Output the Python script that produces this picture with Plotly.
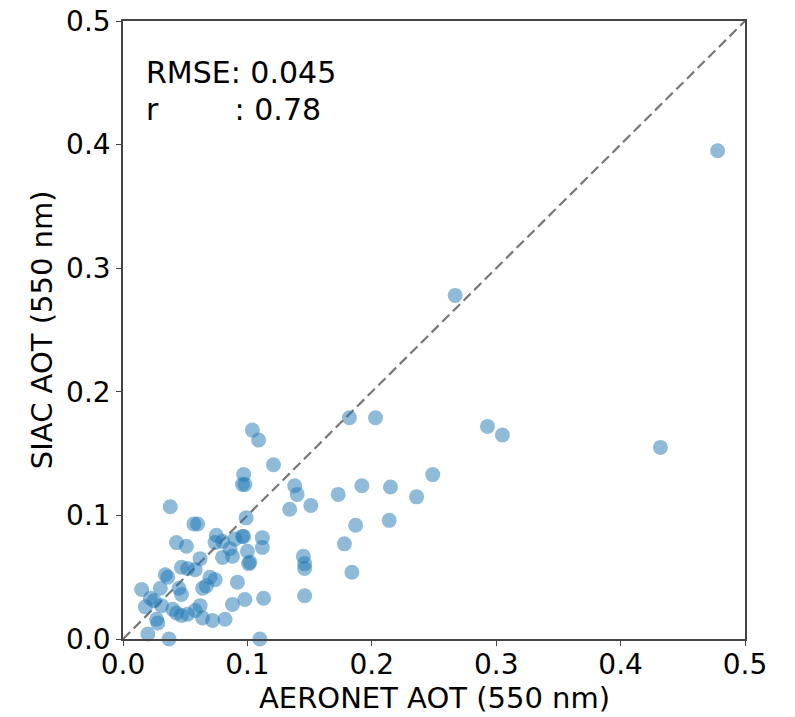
import plotly.graph_objects as go

aeronet = [0.038, 0.096, 0.057, 0.060, 0.099, 0.043, 0.051, 0.075, 0.074, 0.080,
           0.090, 0.096, 0.112, 0.112, 0.100, 0.086, 0.080, 0.088, 0.102, 0.062,
           0.047, 0.052, 0.058, 0.034, 0.036, 0.070, 0.074, 0.067, 0.064, 0.092,
           0.015, 0.030, 0.045, 0.047, 0.022, 0.025, 0.018, 0.031, 0.062, 0.088,
           0.098, 0.113, 0.043, 0.047, 0.052, 0.040, 0.058, 0.064, 0.072, 0.082,
           0.027, 0.028, 0.020, 0.037, 0.110, 0.104, 0.109, 0.121, 0.182, 0.203,
           0.249, 0.097, 0.098, 0.138, 0.140, 0.134, 0.151, 0.173, 0.192, 0.215,
           0.236, 0.187, 0.214, 0.178, 0.145, 0.146, 0.146, 0.184, 0.146, 0.101,
           0.097, 0.478, 0.267, 0.432, 0.293, 0.305]
siac = [0.107, 0.125, 0.093, 0.093, 0.098, 0.078, 0.075, 0.084, 0.078, 0.079,
        0.081, 0.083, 0.082, 0.074, 0.071, 0.073, 0.066, 0.067, 0.062, 0.065,
        0.058, 0.057, 0.056, 0.052, 0.050, 0.050, 0.048, 0.043, 0.041, 0.046,
        0.040, 0.041, 0.041, 0.036, 0.033, 0.031, 0.026, 0.027, 0.027, 0.028,
        0.032, 0.033, 0.021, 0.019, 0.020, 0.024, 0.023, 0.017, 0.015, 0.016,
        0.016, 0.013, 0.004, 0.000, 0.000, 0.169, 0.161, 0.141, 0.179, 0.179,
        0.133, 0.133, 0.125, 0.124, 0.117, 0.105, 0.108, 0.117, 0.124, 0.123,
        0.115, 0.092, 0.096, 0.077, 0.067, 0.061, 0.057, 0.054, 0.035, 0.061,
        0.083, 0.395, 0.278, 0.155, 0.172, 0.165]

axis_range = [0.0, 0.5]
tick_vals = [0.0, 0.1, 0.2, 0.3, 0.4, 0.5]
tick_text = ["0.0", "0.1", "0.2", "0.3", "0.4", "0.5"]
rmse_text = "RMSE: 0.045"
r_text = "r        : 0.78"
x_title = "AERONET AOT (550 nm)"
y_title = "SIAC AOT (550 nm)"

font = "DejaVu Sans"

fig = go.Figure()
fig.add_trace(go.Scatter(
    x=axis_range, y=axis_range, mode="lines",
    line=dict(color="#777777", width=2.2, dash="10px,5px"),
    hoverinfo="skip", showlegend=False))
fig.add_trace(go.Scatter(
    x=aeronet, y=siac, mode="markers",
    marker=dict(color="rgba(31,119,180,0.5)", size=15, line=dict(width=0)),
    showlegend=False, cliponaxis=False))

fig.add_annotation(x=0.017, y=0.458, xref="x", yref="y", text=rmse_text,
                   showarrow=False, xanchor="left", yanchor="middle",
                   font=dict(family=font, size=30, color="black"))
fig.add_annotation(x=0.017, y=0.428, xref="x", yref="y", text=r_text.replace(" ", "&nbsp;"),
                   showarrow=False, xanchor="left", yanchor="middle",
                   font=dict(family=font, size=30, color="black"))

# axis titles
fig.add_annotation(x=0.5, y=-0.096, xref="paper", yref="paper", text=x_title,
                   showarrow=False, xanchor="center", yanchor="middle",
                   font=dict(family=font, size=29, color="black"))
fig.add_annotation(x=-0.130, y=0.5, xref="paper", yref="paper", text=y_title,
                   showarrow=False, xanchor="center", yanchor="middle", textangle=-90,
                   font=dict(family=font, size=29, color="black"))

axis_common = dict(
    range=axis_range, tickvals=tick_vals, ticktext=tick_text,
    showgrid=False, zeroline=False, showline=True, linecolor="#444444",
    linewidth=1.6, mirror=True, ticks="outside", ticklen=5, tickwidth=1.2,
    tickcolor="#444444", tickfont=dict(family=font, size=28, color="black"),
    automargin=False, ticklabeloverflow="allow",
)
fig.update_xaxes(**axis_common, ticklabelstandoff=-5)
fig.update_yaxes(**axis_common)

fig.update_layout(
    width=787, height=709,
    margin=dict(l=115, r=50, t=13, b=78),
    plot_bgcolor="white", paper_bgcolor="white",
)

fig.write_html("out.html")
